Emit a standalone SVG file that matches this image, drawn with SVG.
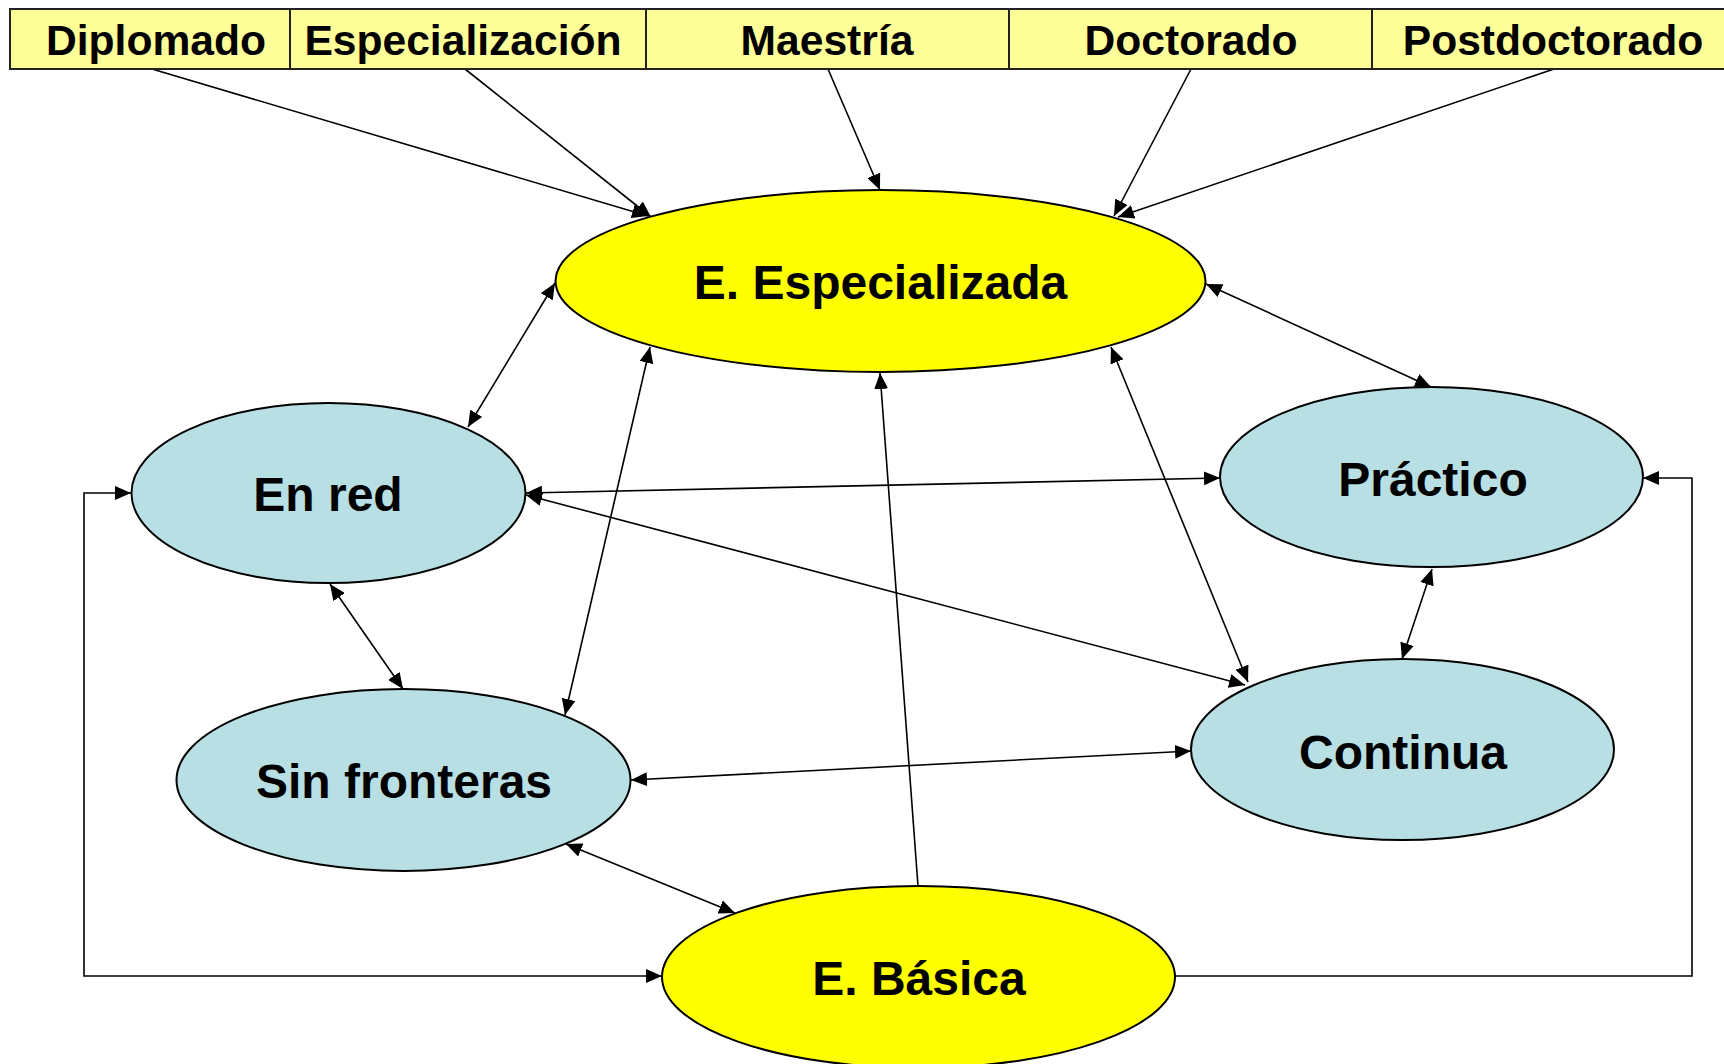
<svg xmlns="http://www.w3.org/2000/svg" width="1724" height="1064" viewBox="0 0 1724 1064">
<style>
.cell{fill:#FFFF99;stroke:#222;stroke-width:2}
.hdr{font-family:"Liberation Sans",Arial,sans-serif;font-weight:bold;font-size:42.6px;fill:#000;text-anchor:middle}
.lbl{font-family:"Liberation Sans",Arial,sans-serif;font-weight:bold;font-size:48px;fill:#000;text-anchor:middle}
.yel{fill:#FFFF00;stroke:#000;stroke-width:2}
.blu{fill:#B8DFE3;stroke:#000;stroke-width:2}
.c{fill:none;stroke:#000;stroke-width:1.6}
.one{marker-end:url(#ah)}
.two{marker-start:url(#ah);marker-end:url(#ah)}
</style>
<defs>
<marker id="ah" markerUnits="userSpaceOnUse" markerWidth="17" markerHeight="14" refX="16" refY="7" orient="auto-start-reverse" viewBox="0 0 17 14">
<path d="M0,0 L16,7 L0,14 Z" fill="#000"/>
</marker>
</defs>
<rect width="1724" height="1064" fill="#fff"/>
<g id="connectors">
<line class="c one" x1="152" y1="69" x2="648" y2="216"/>
<line class="c one" x1="465" y1="69" x2="651" y2="217"/>
<line class="c one" x1="828" y1="69" x2="880" y2="190"/>
<line class="c one" x1="1191" y1="69" x2="1114" y2="216"/>
<line class="c one" x1="1554" y1="69" x2="1118" y2="217"/>
<line class="c two" x1="555" y1="283" x2="468" y2="427"/>
<line class="c two" x1="1206" y1="284" x2="1431" y2="387"/>
<line class="c two" x1="650" y1="347" x2="565" y2="715"/>
<line class="c one" x1="918" y1="886" x2="880" y2="373"/>
<line class="c two" x1="1111" y1="347" x2="1248" y2="682"/>
<line class="c two" x1="526" y1="493" x2="1220" y2="478"/>
<line class="c two" x1="526" y1="495" x2="1245" y2="685"/>
<line class="c two" x1="330" y1="584" x2="403" y2="689"/>
<line class="c two" x1="631" y1="780" x2="1191" y2="751"/>
<line class="c two" x1="566" y1="844" x2="735" y2="913"/>
<line class="c two" x1="1432" y1="569" x2="1402" y2="659"/>
<polyline class="c two" points="131,493 84,493 84,976 662,976"/>
<polyline class="c one" points="1175,976 1692,976 1692,478 1643,478"/>
</g>
<g id="header">
<rect class="cell" x="10" y="9" width="280" height="60"/>
<rect class="cell" x="290" y="9" width="356" height="60"/>
<rect class="cell" x="646" y="9" width="363" height="60"/>
<rect class="cell" x="1009" y="9" width="363" height="60"/>
<rect class="cell" x="1372" y="9" width="360" height="60"/>
</g>
<g id="n-diplomado"><text class="hdr" x="156" y="55">Diplomado</text></g>
<g id="n-especializacion"><text class="hdr" x="463" y="55">Especialización</text></g>
<g id="n-maestria"><text class="hdr" x="827" y="55">Maestría</text></g>
<g id="n-doctorado"><text class="hdr" x="1191" y="55">Doctorado</text></g>
<g id="n-postdoctorado"><text class="hdr" x="1553" y="55">Postdoctorado</text></g>
<g id="n-especializada">
<ellipse class="yel" cx="880.5" cy="281" rx="325" ry="91"/>
<text class="lbl" x="880.5" y="299">E. Especializada</text>
</g>
<g id="n-enred">
<ellipse class="blu" cx="328.5" cy="493" rx="197" ry="90"/>
<text class="lbl" x="328" y="511">En red</text>
</g>
<g id="n-practico">
<ellipse class="blu" cx="1431.5" cy="477" rx="211.5" ry="90"/>
<text class="lbl" x="1433" y="496">Práctico</text>
</g>
<g id="n-sinfronteras">
<ellipse class="blu" cx="403.5" cy="780" rx="227" ry="91"/>
<text class="lbl" x="404" y="798">Sin fronteras</text>
</g>
<g id="n-continua">
<ellipse class="blu" cx="1402.5" cy="749.5" rx="211.5" ry="90.5"/>
<text class="lbl" x="1403" y="769">Continua</text>
</g>
<g id="n-basica">
<ellipse class="yel" cx="918.5" cy="977" rx="256.5" ry="91"/>
<text class="lbl" x="919" y="995">E. Básica</text>
</g>
</svg>
